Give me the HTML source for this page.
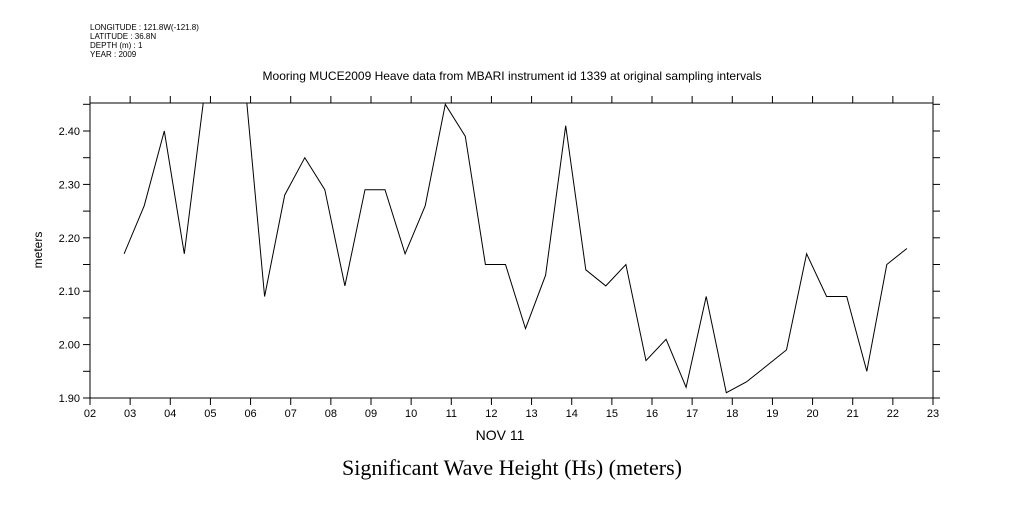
<!DOCTYPE html>
<html><head><meta charset="utf-8"><style>
body{margin:0;background:#fff;width:1009px;height:504px;overflow:hidden}
svg text{font-family:"Liberation Sans",sans-serif;fill:#000}
</style></head><body>
<svg id="c" width="1009" height="504" xmlns="http://www.w3.org/2000/svg">
<g font-size="8">
<text x="90" y="30">LONGITUDE : 121.8W(-121.8)</text>
<text x="90" y="39">LATITUDE : 36.8N</text>
<text x="90" y="48">DEPTH (m) : 1</text>
<text x="90" y="57">YEAR : 2009</text>
</g>
<text x="512" y="80" font-size="12" text-anchor="middle">Mooring MUCE2009 Heave data from MBARI instrument id 1339 at original sampling intervals</text>
<text transform="translate(42,250) rotate(-90)" font-size="12" text-anchor="middle">meters</text>
<text x="500" y="440" font-size="14" text-anchor="middle">NOV 11</text>
<text x="512" y="475" font-size="22" text-anchor="middle" style="font-family:'Liberation Serif',serif">Significant Wave Height (Hs) (meters)</text>
<defs><clipPath id="cp"><rect x="90" y="103" width="843" height="295"/></clipPath></defs>
<g id="axes"></g>
<path id="line" fill="none" stroke="#000" stroke-width="1" clip-path="url(#cp)"/>
</svg>
<script>
const startHour = 2.85;
const stepHours = 0.5;
const heights = [2.17,2.26,2.40,2.17,2.47,2.55,2.50,2.09,2.28,2.35,2.29,2.11,2.29,2.29,2.17,2.26,2.45,2.39,2.15,2.15,2.03,2.13,2.41,2.14,2.11,2.15,1.97,2.01,1.92,2.09,1.91,1.93,1.96,1.99,2.17,2.09,2.09,1.95,2.15,2.18];
const xTickLabels = ["02","03","04","05","06","07","08","09","10","11","12","13","14","15","16","17","18","19","20","21","22","23"];
const yTickLabels = ["1.90","2.00","2.10","2.20","2.30","2.40"];
const X0=90,X1=933,Y0=398,Y1=103;
const xs=h=>X0+(h-2)*(X1-X0)/21;
const ys=v=>Y0-(v-1.9)*534;
const NS="http://www.w3.org/2000/svg";
const ax=document.getElementById('axes');
function el(t,a){const e=document.createElementNS(NS,t);for(const k in a)e.setAttribute(k,a[k]);ax.appendChild(e);return e;}
const fr=el('rect',{x:X0,y:Y1,width:X1-X0,height:Y0-Y1,fill:'none',stroke:'#000'});


xTickLabels.forEach((l,i)=>{const x=xs(2+i);
el('line',{x1:x,x2:x,y1:Y0,y2:Y0+7,stroke:'#000'});
el('line',{x1:x,x2:x,y1:Y1,y2:Y1-7,stroke:'#000'});
const t=el('text',{x:x,y:Y0+19,'font-size':11,'text-anchor':'middle'});t.textContent=l;

});
for(let v=1.90;v<=2.451;v+=0.05){const y=ys(v);
el('line',{x1:X0-7,x2:X0,y1:y,y2:y,stroke:'#000'});
el('line',{x1:X1,x2:X1+7,y1:y,y2:y,stroke:'#000'});}
yTickLabels.forEach(l=>{const y=ys(parseFloat(l));
const t=el('text',{x:X0-10,y:y+4,'font-size':11,'text-anchor':'end'});t.textContent=l;

});
document.getElementById('line').setAttribute('d',heights.map((v,i)=>(i?'L':'M')+xs(startHour+i*stepHours).toFixed(1)+','+ys(v).toFixed(1)).join(''));
</script>
</body></html>
